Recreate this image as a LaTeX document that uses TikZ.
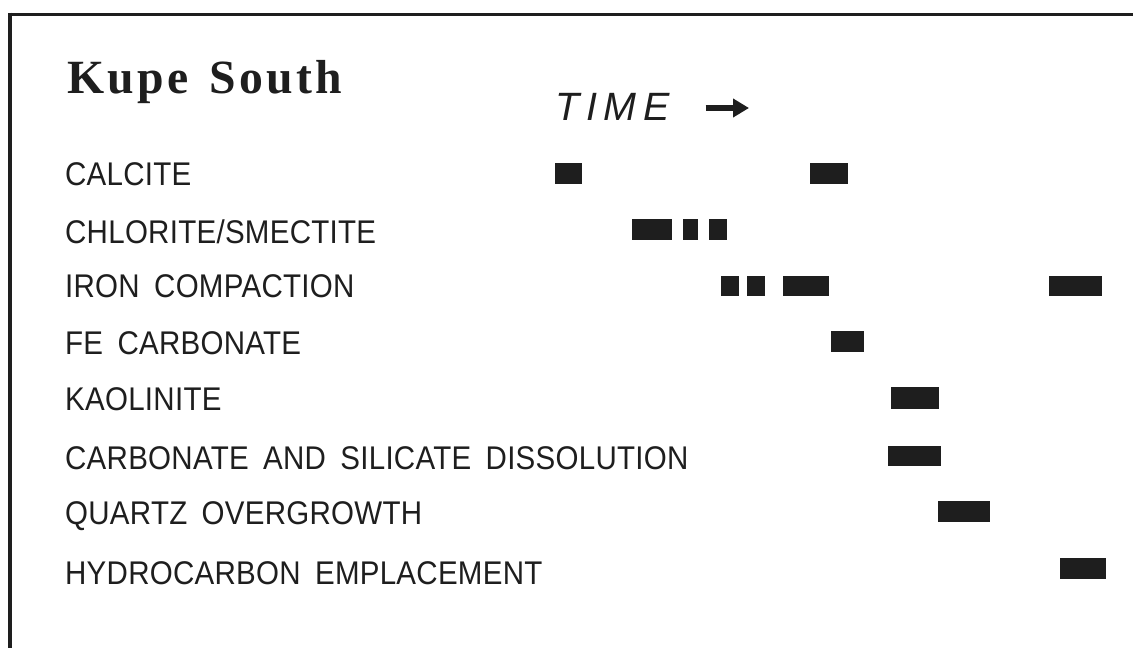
\documentclass[tikz,border=0pt]{standalone}
\usepackage{fontspec}
\usetikzlibrary{arrows.meta}
\newfontfamily\labelfont[FakeStretch=0.9,WordSpace=1.7,LetterSpace=0.8]{Liberation Sans}
\newfontfamily\titlefont[LetterSpace=6.7,WordSpace=1.4]{Liberation Serif}
\newfontfamily\timefont[LetterSpace=17]{Liberation Sans}
\definecolor{ink}{HTML}{1E1E1E}
\tikzset{
  lbl/.style={anchor=base west,inner sep=0pt,text=ink,font=\labelfont\fontsize{32.8}{36}\selectfont},
  barbox/.style={fill=ink},
  frameline/.style={draw=ink,line cap=butt}
}
\begin{document}
\begin{tikzpicture}[x=1pt,y=-1pt]
\useasboundingbox (0,0) rectangle (1133,648);
% frame
\draw[frameline,line width=3.3pt] (8,14.3) -- (1133,14.3);
\draw[frameline,line width=4.5pt] (10,12.6) -- (10,648);
% title
\node[anchor=base west,inner sep=0pt,text=ink,font=\titlefont\bfseries\fontsize{47.7}{50}\selectfont] (title) at (67.5,93.3) {Kupe South};
% time
\node[anchor=base west,inner sep=0pt,text=ink,font=\timefont\itshape\fontsize{39.5}{42}\selectfont] (time) at (555,120) {TIME};
\coordinate (ta) at (705.5,108);
\coordinate (tb) at (749,108);
\draw[draw=ink,line width=5.5pt,-{Triangle[length=16pt,width=18pt]}] (ta) -- (tb);
% labels
\node[lbl] (l1) at (65,185) {CALCITE};
\node[lbl] (l2) at (65,243.3) {CHLORITE/SMECTITE};
\node[lbl] (l3) at (65,297) {IRON COMPACTION};
\node[lbl] (l4) at (65,354) {FE CARBONATE};
\node[lbl] (l5) at (65,410) {KAOLINITE};
\node[lbl] (l6) at (65,469) {CARBONATE AND SILICATE DISSOLUTION};
\node[lbl] (l7) at (65,524.5) {QUARTZ OVERGROWTH};
\node[lbl] (l8) at (65,584) {HYDROCARBON EMPLACEMENT};
% bars
\path[barbox] (555,162.7) rectangle (582,184);
\path[barbox] (810,162.7) rectangle (847.5,184);
\path[barbox] (631.7,218.7) rectangle (671.7,240);
\path[barbox] (683.3,218.7) rectangle (697.7,240);
\path[barbox] (709,218.7) rectangle (727.3,240);
\path[barbox] (721.3,275.7) rectangle (738.7,296.3);
\path[barbox] (747.3,275.7) rectangle (764.7,296.3);
\path[barbox] (782.7,275.7) rectangle (829.3,296.3);
\path[barbox] (1049.3,275.7) rectangle (1101.7,296.3);
\path[barbox] (831.3,331) rectangle (864.3,351.7);
\path[barbox] (891,387.3) rectangle (938.7,408.7);
\path[barbox] (888.3,446) rectangle (940.7,466.3);
\path[barbox] (938,501.3) rectangle (989.7,522);
\path[barbox] (1060,558) rectangle (1106.3,579.3);
\end{tikzpicture}
\end{document}
